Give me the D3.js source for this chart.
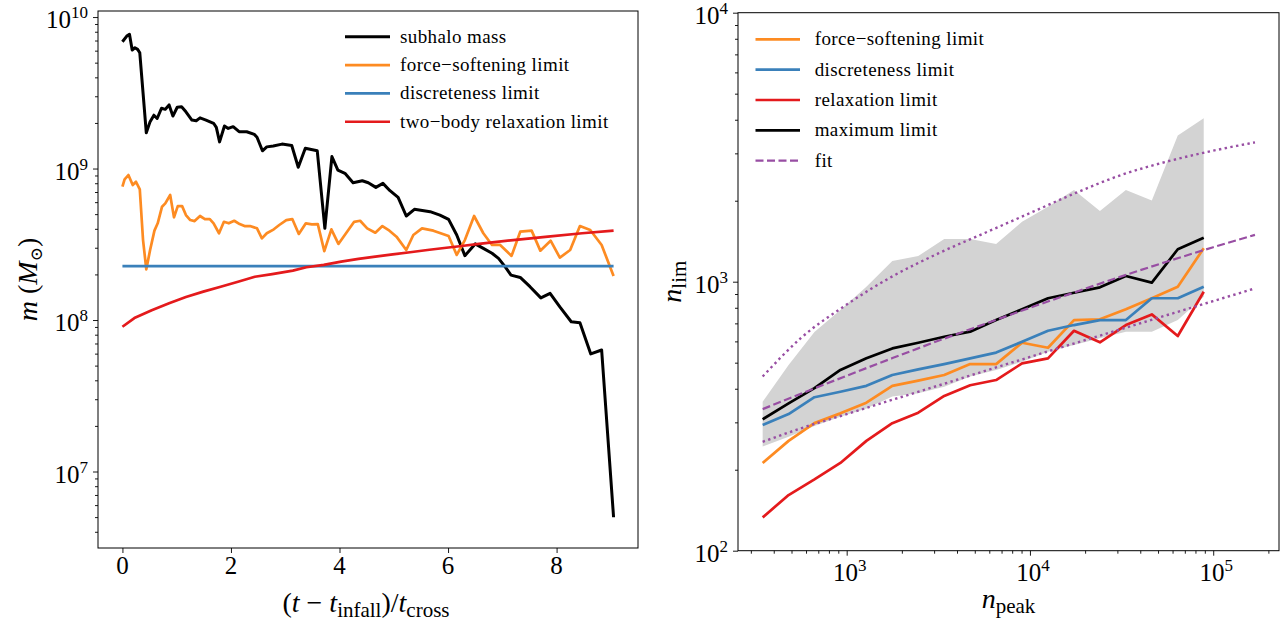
<!DOCTYPE html>
<html>
<head>
<meta charset="utf-8">
<script src="https://cdn.jsdelivr.net/npm/d3@7"></script>
<style>
  body { margin: 0; background: #fff; }
  svg { display: block; }
  svg text { font-family: "Liberation Serif", "DejaVu Serif", serif; fill: #000; }
</style>
</head>
<body>
<svg id="fig" width="1282" height="624" font-family="Liberation Serif, DejaVu Serif, serif"></svg>
<script>
// ---- Left panel: mass evolution of one subhalo (in units of crossing time) ----
const tMass = [0.00,0.08,0.13,0.18,0.23,0.28,0.32,0.44,0.51,0.58,0.64,0.72,0.79,0.86,0.93,1.01,1.09,1.17,1.28,1.36,1.43,1.54,1.68,1.73,1.79,1.88,1.95,2.04,2.15,2.29,2.43,2.48,2.58,2.66,2.78,2.94,3.12,3.24,3.37,3.59,3.73,3.86,3.97,4.10,4.25,4.42,4.53,4.67,4.80,4.93,5.08,5.23,5.38,5.67,5.85,6.01,6.16,6.31,6.50,6.65,6.81,6.93,7.05,7.16,7.33,7.51,7.71,7.88,8.06,8.27,8.43,8.63,8.83,9.05];
const mass = [6.87e9,7.49e9,7.69e9,6.06e9,6.27e9,6.12e9,5.81e9,1.72e9,2.04e9,2.25e9,2.14e9,2.50e9,2.46e9,2.63e9,2.22e9,2.54e9,2.56e9,2.37e9,2.09e9,2.07e9,2.16e9,2.09e9,1.99e9,1.87e9,1.50e9,1.91e9,1.84e9,1.89e9,1.75e9,1.75e9,1.68e9,1.61e9,1.31e9,1.39e9,1.41e9,1.45e9,1.42e9,1.02e9,1.36e9,1.31e9,4.03e8,1.20e9,9.77e8,9.30e8,8.06e8,8.31e8,8.06e8,7.51e8,7.98e8,7.14e8,6.45e8,4.86e8,5.38e8,5.19e8,4.93e8,4.62e8,3.64e8,2.66e8,3.18e8,2.97e8,2.76e8,2.55e8,2.25e8,1.98e8,1.91e8,1.66e8,1.40e8,1.50e8,1.22e8,9.74e7,9.60e7,5.97e7,6.34e7,4.99e6];

const tSoft = [0.00,0.04,0.11,0.19,0.25,0.32,0.38,0.44,0.51,0.59,0.65,0.73,0.79,0.88,0.95,1.02,1.10,1.17,1.25,1.33,1.43,1.52,1.61,1.68,1.78,1.87,1.96,2.06,2.16,2.25,2.35,2.48,2.57,2.66,2.79,2.89,3.02,3.13,3.25,3.38,3.49,3.60,3.72,3.85,3.98,4.12,4.27,4.38,4.51,4.66,4.79,4.92,5.05,5.23,5.36,5.52,5.73,6.01,6.16,6.31,6.48,6.65,6.81,6.96,7.17,7.33,7.54,7.70,7.89,8.06,8.25,8.43,8.62,8.83,9.05];
const mSoft = [7.59e8,8.49e8,9.06e8,7.78e8,8.18e8,7.29e8,3.37e8,2.16e8,2.90e8,3.89e8,4.35e8,5.60e8,5.89e8,6.69e8,4.76e8,5.65e8,5.65e8,4.93e8,4.57e8,4.50e8,4.86e8,4.64e8,4.64e8,4.35e8,3.74e8,4.45e8,4.35e8,4.52e8,4.30e8,4.17e8,4.17e8,4.03e8,3.46e8,3.74e8,3.97e8,4.24e8,4.57e8,4.64e8,3.70e8,4.35e8,4.28e8,4.30e8,2.85e8,3.97e8,3.18e8,3.74e8,4.45e8,4.52e8,4.03e8,3.77e8,4.17e8,3.89e8,3.55e8,2.90e8,3.64e8,4.03e8,3.89e8,3.59e8,2.69e8,3.37e8,4.86e8,3.74e8,3.13e8,3.13e8,2.65e8,3.83e8,3.89e8,2.87e8,3.34e8,2.58e8,2.90e8,4.17e8,3.93e8,3.13e8,1.95e8];

const tRelax = [0.00,0.22,0.54,0.86,1.17,1.49,1.81,2.13,2.44,2.76,3.14,3.39,3.71,4.03,4.35,4.66,4.98,5.30,5.62,5.93,6.25,6.57,7.20,7.84,8.47,9.05];
const mRelax = [9.03e7,1.03e8,1.16e8,1.29e8,1.42e8,1.54e8,1.66e8,1.79e8,1.93e8,2.01e8,2.12e8,2.23e8,2.31e8,2.43e8,2.53e8,2.62e8,2.71e8,2.80e8,2.90e8,2.99e8,3.08e8,3.18e8,3.37e8,3.55e8,3.74e8,3.89e8];

const tDisc = [0.00, 9.05];
const mDisc = [2.27e8, 2.27e8];

const leftLegend = ["subhalo mass", "force\u2212softening limit", "discreteness limit", "two\u2212body relaxation limit"];
const leftXTicks = [0, 2, 4, 6, 8];
const leftYExps = [7, 8, 9, 10];

// ---- Right panel: limits (in particles) versus peak particle number ----
const nPeak  = [348, 482, 667, 924, 1281, 1774, 2458, 3406, 4719, 6538, 9057, 12550, 17390, 24090, 33380, 46240, 64070, 88770];
const nSoft  = [212, 256, 298, 324, 355, 410, 429, 450, 494, 494, 593, 568, 720, 725, 790, 868, 958, 1331];
const nDisc  = [293, 322, 372, 390, 410, 450, 472, 494, 519, 545, 598, 657, 690, 720, 720, 868, 868, 958];
const nRelax = [133, 161, 184, 212, 256, 298, 326, 376, 412, 431, 497, 519, 657, 595, 690, 756, 628, 918];
const nMax   = [308, 353, 402, 470, 519, 565, 593, 624, 652, 720, 790, 868, 910, 953, 1050, 992, 1320, 1458];
const bandLo = [244, 265, 291, 315, 338, 374, 385, 407, 444, 470, 504, 549, 582, 616, 652, 652, 720, 880];
const bandHi = [358, 490, 650, 785, 958, 1194, 1246, 1441, 1441, 1381, 1671, 1900, 2193, 1831, 2193, 2002, 3492, 4050];

const fitN     = [348, 562, 1000, 1778, 3162, 5623, 10000, 17783, 31623, 56234, 100000, 169000];
const fitMid   = [336, 383, 447, 520, 603, 695, 800, 916, 1047, 1189, 1343, 1493];
const fitUpper = [444, 617, 822, 1047, 1274, 1514, 1799, 2138, 2495, 2799, 3069, 3296];
const fitLower = [254, 285, 322, 364, 411, 465, 525, 592, 667, 752, 847, 944];

const rightLegend = ["force\u2212softening limit", "discreteness limit", "relaxation limit", "maximum limit", "fit"];
const rightXExps = [3, 4, 5];
const rightYExps = [2, 3, 4];

const C = { black: "#000000", orange: "#fd8b22", blue: "#3a80ba", red: "#e41a1c", purple: "#984ea3", band: "#d3d3d3" };
const FONT = "Liberation Serif, DejaVu Serif, serif";

const svg = d3.select("#fig");

// Panel frames
const L = { x0: 98, x1: 638, y0: 11, y1: 548 };
const R = { x0: 738, x1: 1279, y0: 12.7, y1: 550.7 };

const xL = d3.scaleLinear().domain([-0.45, 9.5]).range([L.x0, L.x1]);
const yL = d3.scaleLog().domain([Math.pow(10, 6.495), Math.pow(10, 10.04)]).range([L.y1, L.y0]);
const xR = d3.scaleLog().domain([Math.pow(10, 2.407), Math.pow(10, 5.359)]).range([R.x0, R.x1]);
const yR = d3.scaleLog().domain([100, 10000]).range([R.y1, R.y0]);

function minorTicks(scale) {
  const [a, b] = scale.domain();
  const out = [];
  for (let e = Math.floor(Math.log10(a)); e <= Math.ceil(Math.log10(b)); e++) {
    for (let k = 2; k <= 9; k++) {
      const v = k * Math.pow(10, e);
      if (v >= a && v <= b) out.push(v);
    }
  }
  return out;
}

function addText(g, size) {
  return g.append("text").attr("font-family", FONT).attr("font-size", size);
}

function powLabel(g, x, y, exp, anchor) {
  const t = addText(g, 25).attr("x", x).attr("y", y).attr("text-anchor", anchor);
  t.append("tspan").text("10");
  t.append("tspan").attr("dy", -10).attr("font-size", 17).text(exp);
  return t;
}

function axisGroup(g, axis) {
  const a = g.call(axis);
  a.select(".domain").remove();
  a.selectAll(".tick line").attr("stroke", "#000").attr("stroke-width", 0.9);
  a.selectAll(".tick text").remove();
  return a;
}

// ================= Left panel =================
const gl = svg.append("g");
svg.append("clipPath").attr("id", "clipL").append("rect")
  .attr("x", L.x0).attr("y", L.y0).attr("width", L.x1 - L.x0).attr("height", L.y1 - L.y0);

const lineL = (ts, ms) => d3.line().x((d, i) => xL(ts[i])).y(d => yL(d))(ms);

const plotL = gl.append("g").attr("clip-path", "url(#clipL)");
plotL.append("path").attr("d", lineL(tMass, mass)).attr("fill", "none").attr("stroke", C.black).attr("stroke-width", 3).attr("stroke-linejoin", "round");
plotL.append("path").attr("d", lineL(tSoft, mSoft)).attr("fill", "none").attr("stroke", C.orange).attr("stroke-width", 2.7).attr("stroke-linejoin", "round");
plotL.append("path").attr("d", lineL(tDisc, mDisc)).attr("fill", "none").attr("stroke", C.blue).attr("stroke-width", 2.7);
plotL.append("path").attr("d", lineL(tRelax, mRelax)).attr("fill", "none").attr("stroke", C.red).attr("stroke-width", 2.7).attr("stroke-linejoin", "round");

// axes
axisGroup(gl.append("g").attr("transform", `translate(0,${L.y1})`),
  d3.axisBottom(xL).tickValues(leftXTicks).tickSize(5).tickFormat(""));
axisGroup(gl.append("g").attr("transform", `translate(${L.x0},0)`),
  d3.axisLeft(yL).tickValues(leftYExps.map(e => Math.pow(10, e))).tickSize(5).tickFormat(""));
axisGroup(gl.append("g").attr("transform", `translate(${L.x0},0)`),
  d3.axisLeft(yL).tickValues(minorTicks(yL)).tickSize(3).tickFormat(""));

gl.append("rect").attr("x", L.x0).attr("y", L.y0).attr("width", L.x1 - L.x0).attr("height", L.y1 - L.y0)
  .attr("fill", "none").attr("stroke", "#000").attr("stroke-width", 1);

leftXTicks.forEach(v => {
  addText(gl, 25).attr("x", xL(v)).attr("y", 574).attr("text-anchor", "middle").text(v);
});
leftYExps.forEach(e => powLabel(gl, L.x0 - 10, yL(Math.pow(10, e)) + 11, e, "end"));

// x label: (t - t_infall)/t_cross
{
  const t = addText(gl, 28).attr("x", (L.x0 + L.x1) / 2 - 2).attr("y", 612).attr("text-anchor", "middle");
  t.append("tspan").text("(");
  t.append("tspan").attr("font-style", "italic").text("t");
  t.append("tspan").text(" \u2212 ");
  t.append("tspan").attr("font-style", "italic").text("t");
  t.append("tspan").attr("font-size", 21).attr("dy", 5).text("infall");
  t.append("tspan").attr("dy", -5).text(")/");
  t.append("tspan").attr("font-style", "italic").text("t");
  t.append("tspan").attr("font-size", 21).attr("dy", 5).text("cross");
}
// y label: m (M_sun)
{
  const cx = 37, cy = (L.y0 + L.y1) / 2;
  const t = addText(gl, 28).attr("transform", `translate(${cx},${cy}) rotate(-90)`).attr("text-anchor", "middle");
  t.append("tspan").attr("font-style", "italic").text("m");
  t.append("tspan").text(" (");
  t.append("tspan").attr("font-style", "italic").text("M");
  t.append("tspan").attr("font-size", 17).attr("dy", 5).attr("font-family", "DejaVu Serif, DejaVu Sans").text("\u2299");
  t.append("tspan").attr("dy", -5).text(")");
}

// legend
const legL = gl.append("g");
const legLColors = [C.black, C.orange, C.blue, C.red];
leftLegend.forEach((s, i) => {
  const y = 36.7 + i * 28.35;
  legL.append("line").attr("x1", 345).attr("x2", 390).attr("y1", y).attr("y2", y)
    .attr("stroke", legLColors[i]).attr("stroke-width", i === 0 ? 3 : 2.7);
  addText(legL, 19).attr("x", 400).attr("y", y + 6).attr("letter-spacing", 0.4).text(s);
});

// ================= Right panel =================
const gr = svg.append("g");
svg.append("clipPath").attr("id", "clipR").append("rect")
  .attr("x", R.x0).attr("y", R.y0).attr("width", R.x1 - R.x0).attr("height", R.y1 - R.y0);
const plotR = gr.append("g").attr("clip-path", "url(#clipR)");

// spread band
plotR.append("path")
  .attr("d", d3.area().x((d, i) => xR(nPeak[i])).y0((d, i) => yR(bandLo[i])).y1(d => yR(d))(bandHi))
  .attr("fill", C.band).attr("stroke", "none");

const lineR = ys => d3.line().x((d, i) => xR(nPeak[i])).y(d => yR(d))(ys);
[[nSoft, C.orange], [nDisc, C.blue], [nRelax, C.red], [nMax, C.black]].forEach(([ys, c]) => {
  plotR.append("path").attr("d", lineR(ys)).attr("fill", "none").attr("stroke", c)
    .attr("stroke-width", 2.7).attr("stroke-linejoin", "round");
});

const fitLine = ys => d3.line().curve(d3.curveMonotoneX).x((d, i) => xR(fitN[i])).y(d => yR(d))(ys);
plotR.append("path").attr("d", fitLine(fitMid)).attr("fill", "none").attr("stroke", C.purple)
  .attr("stroke-width", 2.2).attr("stroke-dasharray", "8,3.5");
[fitUpper, fitLower].forEach(ys => {
  plotR.append("path").attr("d", fitLine(ys)).attr("fill", "none").attr("stroke", C.purple)
    .attr("stroke-width", 2.4).attr("stroke-dasharray", "2.4,3.4");
});

// axes
axisGroup(gr.append("g").attr("transform", `translate(0,${R.y1})`),
  d3.axisBottom(xR).tickValues(rightXExps.map(e => Math.pow(10, e))).tickSize(5).tickFormat(""));
axisGroup(gr.append("g").attr("transform", `translate(0,${R.y1})`),
  d3.axisBottom(xR).tickValues(minorTicks(xR)).tickSize(3).tickFormat(""));
axisGroup(gr.append("g").attr("transform", `translate(${R.x0},0)`),
  d3.axisLeft(yR).tickValues(rightYExps.map(e => Math.pow(10, e))).tickSize(5).tickFormat(""));
axisGroup(gr.append("g").attr("transform", `translate(${R.x0},0)`),
  d3.axisLeft(yR).tickValues(minorTicks(yR)).tickSize(3).tickFormat(""));

gr.append("rect").attr("x", R.x0).attr("y", R.y0).attr("width", R.x1 - R.x0).attr("height", R.y1 - R.y0)
  .attr("fill", "none").attr("stroke", "#000").attr("stroke-width", 1);

rightXExps.forEach(e => powLabel(gr, xR(Math.pow(10, e)) + 3, 581, e, "middle"));
rightYExps.forEach(e => powLabel(gr, R.x0 - 10, yR(Math.pow(10, e)) + 11, e, "end"));

// x label: n_peak
{
  const t = addText(gr, 28).attr("x", (R.x0 + R.x1) / 2).attr("y", 608).attr("text-anchor", "middle");
  t.append("tspan").attr("font-style", "italic").text("n");
  t.append("tspan").attr("font-size", 21).attr("dy", 5).text("peak");
}
// y label: n_lim
{
  const cx = 681, cy = (R.y0 + R.y1) / 2;
  const t = addText(gr, 28).attr("transform", `translate(${cx},${cy}) rotate(-90)`).attr("text-anchor", "middle");
  t.append("tspan").attr("font-style", "italic").text("n");
  t.append("tspan").attr("font-size", 21).attr("dy", 5).text("lim");
}

// legend
const legR = gr.append("g");
const legRColors = [C.orange, C.blue, C.red, C.black, C.purple];
rightLegend.forEach((s, i) => {
  const y = 39.3 + i * 30.35;
  const ln = legR.append("line").attr("x1", 755.5).attr("x2", 800).attr("y1", y).attr("y2", y)
    .attr("stroke", legRColors[i]).attr("stroke-width", 2.7);
  if (i === 4) ln.attr("stroke-width", 2.2).attr("stroke-dasharray", "8,3.5");
  addText(legR, 19).attr("x", 814.7).attr("y", y + 6).attr("letter-spacing", 0.4).text(s);
});
</script>
</body>
</html>
